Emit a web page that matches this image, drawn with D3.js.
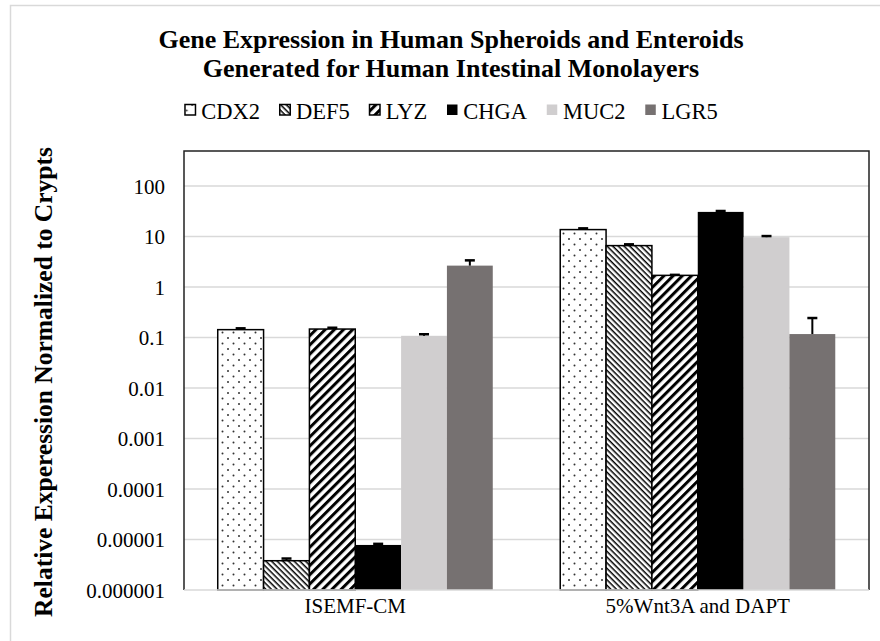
<!DOCTYPE html>
<html>
<head>
<meta charset="utf-8">
<script src="https://cdn.jsdelivr.net/npm/d3@7"></script>
<style>
  body { margin: 0; background: #fff; }
  text { font-family: "Liberation Serif", "Times New Roman", serif; fill: #000; }
</style>
</head>
<body>
<svg id="chart" width="880" height="641"></svg>
<script>
const groups = ['ISEMF-CM', '5%Wnt3A and DAPT'];
const genes = ['CDX2', 'DEF5', 'LYZ', 'CHGA', 'MUC2', 'LGR5'];
// values per gene, one per group
const meanISEMF = [0.143, 0.0000038, 0.147, 0.0000078, 0.108, 2.65];
const meanWnt = [13.7, 6.6, 1.70, 30.7, 9.7, 0.117];
// upper end of error bar
const errISEMF = [0.152, 0.0000042, 0.156, 0.0000082, 0.116, 3.37];
const errWnt = [14.5, 7.0, 1.74, 32, 10.2, 0.243];
const yTicks = [100, 10, 1, 0.1, 0.01, 0.001, 0.0001, 0.00001, 0.000001];
const yTickLabels = ['100', '10', '1', '0.1', '0.01', '0.001', '0.0001', '0.00001', '0.000001'];

const means = [meanISEMF, meanWnt];
const errs = [errISEMF, errWnt];

const svg = d3.select('#chart');
const plot = { left: 184, right: 869, top: 151, bottom: 590 };

// outer chart border
svg.append('rect')
  .attr('x', 10.5).attr('y', 5.5)
  .attr('width', 900).attr('height', 700)
  .attr('fill', '#fff').attr('stroke', '#d9d9d9').attr('stroke-width', 1.5);

// patterns
const defs = svg.append('defs');
const dots = defs.append('pattern').attr('id', 'p-dots')
  .attr('patternUnits', 'userSpaceOnUse').attr('width', 11).attr('height', 11);
dots.append('rect').attr('width', 11).attr('height', 11).attr('fill', '#fff');
dots.append('circle').attr('cx', 2.5).attr('cy', 2.5).attr('r', 1).attr('fill', '#333');
dots.append('circle').attr('cx', 8).attr('cy', 8).attr('r', 1).attr('fill', '#333');

const fine = defs.append('pattern').attr('id', 'p-fine')
  .attr('patternUnits', 'userSpaceOnUse').attr('width', 4).attr('height', 4)
  .attr('patternTransform', 'rotate(45)');
fine.append('rect').attr('width', 4).attr('height', 4).attr('fill', '#fff');
fine.append('rect').attr('width', 4).attr('height', 1.5).attr('fill', '#000');

const wide = defs.append('pattern').attr('id', 'p-wide')
  .attr('patternUnits', 'userSpaceOnUse').attr('width', 6.5).attr('height', 6.5)
  .attr('patternTransform', 'rotate(-45)');
wide.append('rect').attr('width', 6.5).attr('height', 6.5).attr('fill', '#fff');
wide.append('rect').attr('width', 6.5).attr('height', 3).attr('fill', '#000');

const styles = {
  CDX2: { fill: 'url(#p-dots)', stroke: '#000' },
  DEF5: { fill: 'url(#p-fine)', stroke: '#000' },
  LYZ: { fill: 'url(#p-wide)', stroke: '#000' },
  CHGA: { fill: '#000', stroke: 'none' },
  MUC2: { fill: '#d0cecf', stroke: 'none' },
  LGR5: { fill: '#767171', stroke: 'none' }
};

// title
const cx = 451;
svg.append('text').attr('x', cx).attr('y', 48)
  .attr('text-anchor', 'middle').attr('font-size', 26).attr('font-weight', 'bold')
  .text('Gene Expression  in Human Spheroids and Enteroids');
svg.append('text').attr('x', cx).attr('y', 77)
  .attr('text-anchor', 'middle').attr('font-size', 26).attr('font-weight', 'bold')
  .text('Generated  for Human Intestinal Monolayers');

// scales
const x0 = d3.scaleBand().domain(groups).range([plot.left, plot.right]).paddingInner(0.197).paddingOuter(0.0985);
const x1 = d3.scaleBand().domain(genes).range([0, x0.bandwidth()]);
const y = d3.scaleLog().domain([0.000001, 100]).range([plot.bottom, 186]);

// gridlines
svg.append('g').selectAll('line').data(yTicks.slice(0, -1)).join('line')
  .attr('x1', plot.left).attr('x2', plot.right)
  .attr('y1', d => y(d)).attr('y2', d => y(d))
  .attr('stroke', '#d9d9d9').attr('stroke-width', 1.5);

// y axis labels
const yAxis = d3.axisLeft(y).tickValues(yTicks).tickFormat((d, i) => yTickLabels[i]).tickSize(0).tickPadding(19);
svg.append('g').attr('transform', `translate(${plot.left},0)`).call(yAxis)
  .call(g => g.select('.domain').remove())
  .selectAll('text').attr('font-size', 21).attr('font-family', '"Liberation Serif", serif').attr('dy', '0.35em');

// bars
const rows = [];
groups.forEach((g, gi) => genes.forEach((k, ki) => rows.push({ g, k, v: means[gi][ki], e: errs[gi][ki] })));

svg.append('g').selectAll('rect').data(rows).join('rect')
  .attr('x', d => x0(d.g) + x1(d.k))
  .attr('width', x1.bandwidth())
  .attr('y', d => y(d.v))
  .attr('height', d => plot.bottom - y(d.v))
  .attr('fill', d => styles[d.k].fill)
  .attr('stroke', d => styles[d.k].stroke)
  .attr('stroke-width', 1.5);

// error bars
const eb = svg.append('g').selectAll('g').data(rows).join('g');
eb.append('line')
  .attr('x1', d => x0(d.g) + x1(d.k) + x1.bandwidth() / 2)
  .attr('x2', d => x0(d.g) + x1(d.k) + x1.bandwidth() / 2)
  .attr('y1', d => y(d.v)).attr('y2', d => y(d.e))
  .attr('stroke', '#000').attr('stroke-width', 2);
eb.append('line')
  .attr('x1', d => x0(d.g) + x1(d.k) + x1.bandwidth() / 2 - 5)
  .attr('x2', d => x0(d.g) + x1(d.k) + x1.bandwidth() / 2 + 5)
  .attr('y1', d => y(d.e)).attr('y2', d => y(d.e))
  .attr('stroke', '#000').attr('stroke-width', 2.5);

// frame: black left/top/right, gray bottom axis
svg.append('path')
  .attr('d', `M${plot.left},${plot.bottom}V${plot.top}H${plot.right}V${plot.bottom}`)
  .attr('fill', 'none').attr('stroke', '#222').attr('stroke-width', 1.5);
svg.append('line')
  .attr('x1', plot.left).attr('x2', plot.right)
  .attr('y1', plot.bottom).attr('y2', plot.bottom)
  .attr('stroke', '#d9d9d9').attr('stroke-width', 1.5);

// x axis labels
svg.append('g').selectAll('text').data(groups).join('text')
  .attr('x', d => x0(d) + x0.bandwidth() / 2).attr('y', 613)
  .attr('text-anchor', 'middle').attr('font-size', 21)
  .text(d => d);

// y axis title
svg.append('text')
  .attr('transform', 'translate(52,382) rotate(-90)')
  .attr('text-anchor', 'middle').attr('font-size', 25.5).attr('font-weight', 'bold')
  .text('Relative Experession  Normalized to Crypts');

// legend, laid out from measured text widths and centred under the title
const lg = svg.append('g');
const items = lg.selectAll('g').data(genes).join('g');
items.append('rect').attr('x', 0.75).attr('y', -14.5).attr('width', 10.5).attr('height', 10.5)
  .attr('fill', d => styles[d].fill)
  .attr('stroke', d => styles[d].stroke === 'none' ? 'none' : '#000').attr('stroke-width', 1.5);
items.append('text').attr('x', 17).attr('y', 0).attr('font-size', 22.5).text(d => d);
let pos = 0;
items.each(function () {
  d3.select(this).attr('transform', `translate(${pos},0)`);
  pos += 17 + d3.select(this).select('text').node().getComputedTextLength() + 19;
});
const legendW = pos - 19;
lg.attr('transform', `translate(${cx - legendW / 2},119)`);
</script>
</body>
</html>
